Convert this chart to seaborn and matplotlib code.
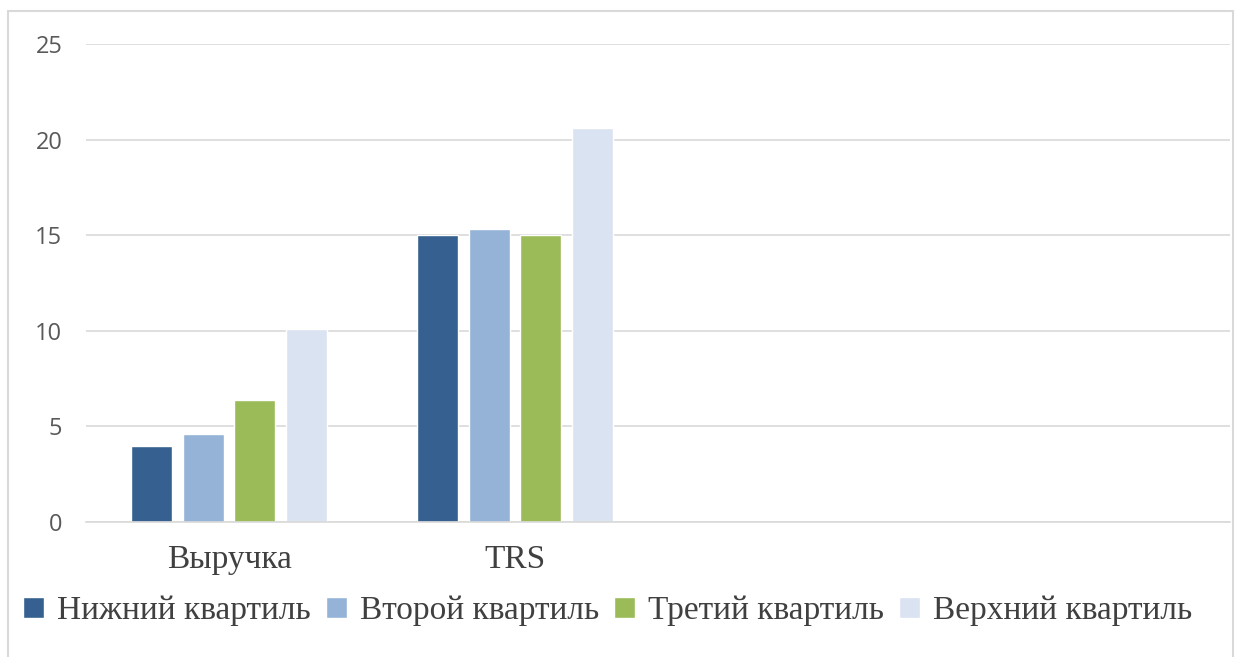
import pandas as pd
import matplotlib
matplotlib.use("Agg")
import matplotlib.pyplot as plt
from matplotlib.patches import Rectangle
import seaborn as sns

# data
categories = ["Выручка", "TRS"]
axis_slots = ["Выручка", "TRS", " ", "  "]
quartiles = ["Нижний квартиль", "Второй квартиль", "Третий квартиль", "Верхний квартиль"]
lower_q = [4.0, 15.0]
second_q = [4.6, 15.3]
third_q = [6.4, 15.0]
upper_q = [10.1, 20.6]
colors = ["#35608F", "#94B3D7", "#9BBB59", "#DAE3F1"]

df = pd.DataFrame({
    "cat": categories * 4,
    "quartile": [q for q in quartiles for _ in categories],
    "value": lower_q + second_q + third_q + upper_q,
})

sns.set_style("white")
fig = plt.figure(figsize=(12.35, 6.57), dpi=100)
ax = fig.add_axes([86 / 1235, 1 - 522 / 657, (1230 - 86) / 1235, (522 - 44) / 657])

sns.barplot(data=df, x="cat", y="value", hue="quartile", order=axis_slots,
            hue_order=quartiles, palette=colors, width=0.72, gap=0.2,
            saturation=1, errorbar=None, ax=ax)

ax.set_ylim(0, 25)
ax.set_yticks([0, 5, 10, 15, 20, 25])
ax.yaxis.grid(True, color="#D9D9D9", linewidth=1.2)
ax.set_axisbelow(True)
for s in ["top", "right", "left"]:
    ax.spines[s].set_visible(False)
ax.spines["bottom"].set_color("#D9D9D9")
ax.spines["bottom"].set_linewidth(1.2)
ax.set_xlabel("")
ax.set_ylabel("")
ax.tick_params(axis="y", length=0, pad=17, labelsize=17, labelcolor="#595959")
ax.tick_params(axis="x", length=0, pad=16)
for lbl in ax.get_yticklabels():
    lbl.set_family("Open Sans")
for lbl in ax.get_xticklabels():
    lbl.set_family("Liberation Serif")
    lbl.set_fontsize(24)
    lbl.set_color("#404040")

# legend in one row below
handles, labels = ax.get_legend_handles_labels()
ax.legend_.remove()
fig.legend(handles, labels, loc="center left", bbox_to_anchor=(23 / 1235, 1 - 611 / 657),
           ncol=4, frameon=False, borderpad=0, borderaxespad=0,
           handlelength=0.63, handleheight=0.63,
           handletextpad=0.39, columnspacing=0.45,
           prop={"family": "Liberation Serif", "size": 24}, labelcolor="#404040")

# outer chart border
fig.patches.append(Rectangle((8 / 1235, -0.05), (1233 - 8) / 1235, 1 - 11 / 657 + 0.05,
                             transform=fig.transFigure, fill=False,
                             edgecolor="#D9D9D9", linewidth=1.5))

fig.savefig("out.png", dpi=100)
